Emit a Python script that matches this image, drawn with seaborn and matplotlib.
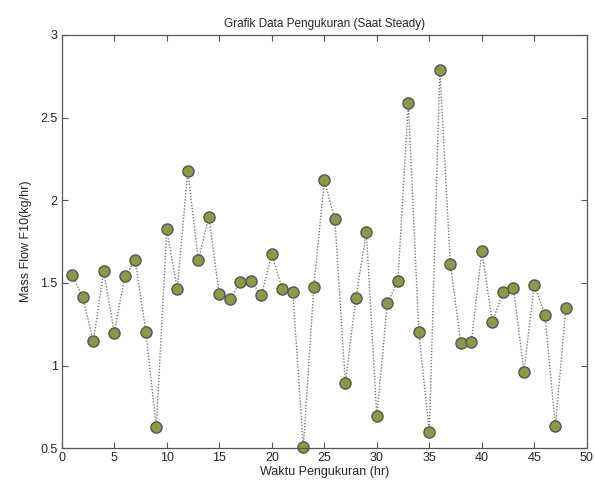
import matplotlib
matplotlib.use("Agg")
import matplotlib.pyplot as plt
import seaborn as sns
import pandas as pd

waktu = list(range(1, 49))
mass_flow = [1.545, 1.414, 1.147, 1.572, 1.198, 1.541, 1.636, 1.206, 0.630, 1.824,
             1.463, 2.178, 1.636, 1.899, 1.430, 1.402, 1.503, 1.513, 1.424, 1.673,
             1.463, 1.444, 0.505, 1.475, 2.121, 1.885, 0.895, 1.408, 1.808, 0.693,
             1.378, 1.511, 2.586, 1.202, 0.596, 2.788, 1.614, 1.135, 1.145, 1.691,
             1.263, 1.444, 1.471, 0.964, 1.489, 1.307, 0.636, 1.349]
xticks = [0, 5, 10, 15, 20, 25, 30, 35, 40, 45, 50]
yticks = [0.5, 1, 1.5, 2, 2.5, 3]
ytick_labels = ["0.5", "1", "1.5", "2", "2.5", "3"]

df = pd.DataFrame({"x": waktu, "y": mass_flow})

sns.set_style("white")
plt.rcParams["font.family"] = ["Liberation Sans", "DejaVu Sans"]

fig = plt.figure(figsize=(5.94, 4.92), dpi=100)
ax = fig.add_axes([0.104, 0.089, 0.884, 0.840])

sns.lineplot(data=df, x="x", y="y", ax=ax, color="#7a7a7a", linestyle=(0, (1, 1.2)),
             linewidth=1.0, marker="o", markersize=8, markerfacecolor="#8c9a45",
             markeredgecolor="#555555", markeredgewidth=1.0, clip_on=False)

ax.set_xlim(0, 50)
ax.set_ylim(0.5, 3)
ax.set_xticks(xticks)
ax.set_xticklabels([str(t) for t in xticks])
ax.set_yticks(yticks)
ax.set_yticklabels(ytick_labels)
ax.tick_params(direction="in", length=4, width=0.8, color="#555555", labelsize=9,
               top=True, right=True, bottom=True, left=True, pad=3)
for s in ax.spines.values():
    s.set_color("#555555")
    s.set_linewidth(0.9)
ax.set_xlabel("Waktu Pengukuran (hr)", fontsize=9, labelpad=1)
ax.set_ylabel("Mass Flow F10(kg/hr)", fontsize=9, labelpad=6)
ax.set_title("Grafik Data Pengukuran (Saat Steady)", fontsize=8.5, pad=6)

fig.savefig("out.png", dpi=100, facecolor="white")
